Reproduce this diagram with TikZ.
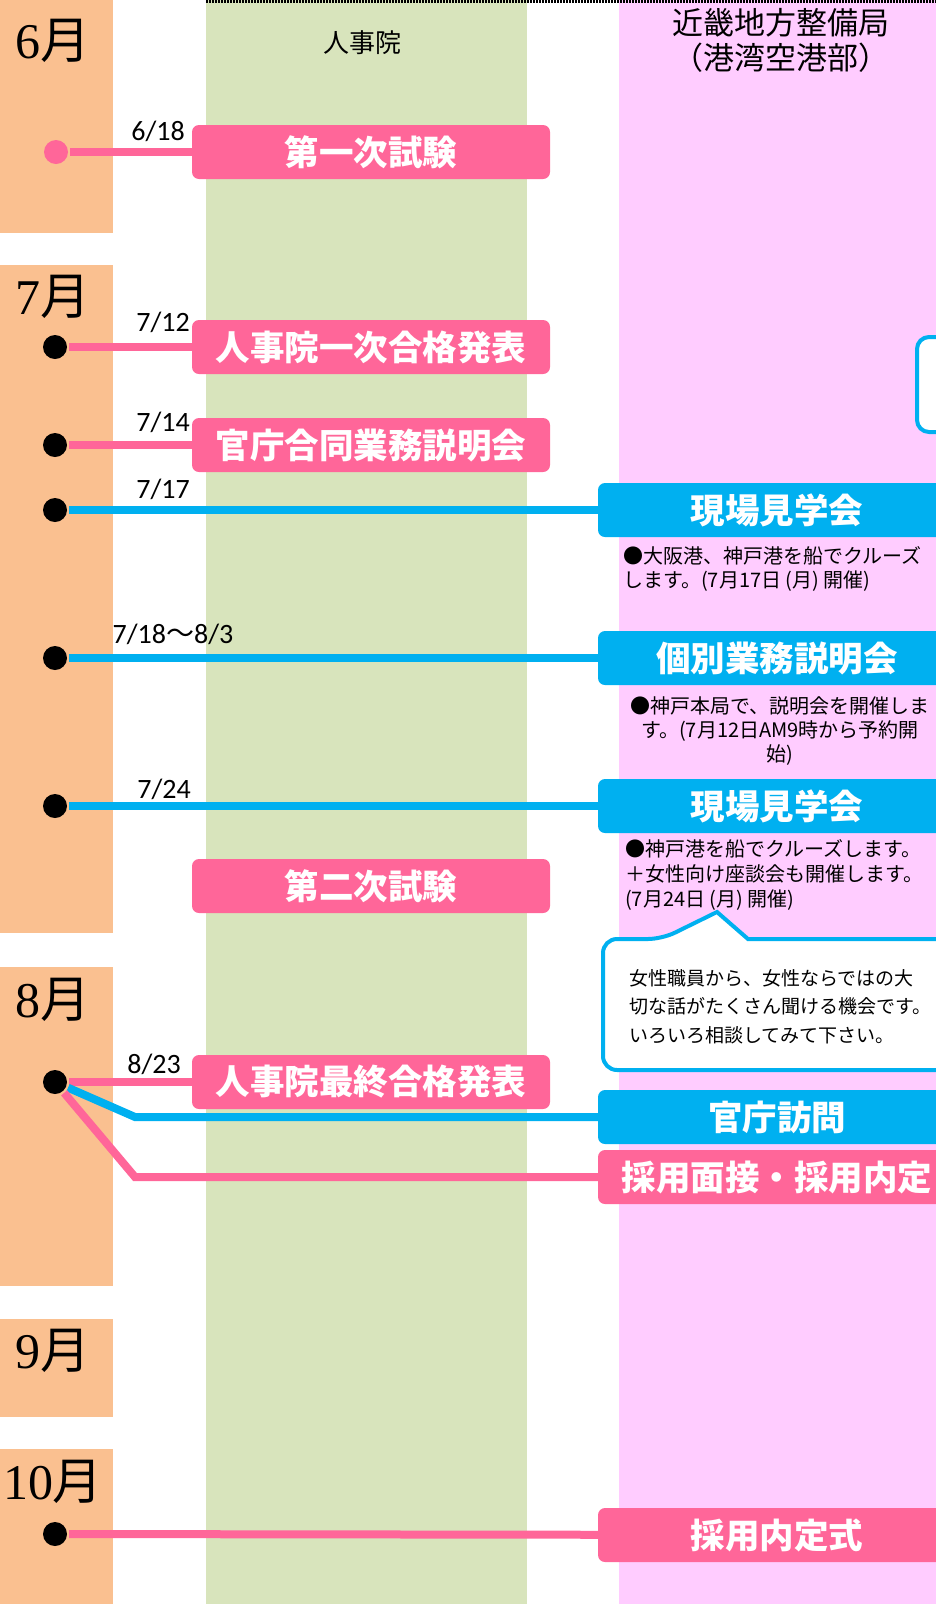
\documentclass[tikz,border=0pt]{standalone}
\usepackage{fontspec}
\setmainfont{Noto Sans CJK JP}
\newfontfamily\datefont{Carlito}
\newfontfamily\monthfont{Liberation Serif}
\usetikzlibrary{positioning}

\definecolor{monthbg}{HTML}{FAC090}
\definecolor{jinjibg}{HTML}{D8E4BC}
\definecolor{kinkibg}{HTML}{FFCCFF}
\definecolor{evpink}{HTML}{FF6699}
\definecolor{evblue}{HTML}{00B0F0}

\begin{document}
\begin{tikzpicture}[x=1pt, y=-1pt,
  dot/.style={circle, fill=black, minimum size=24pt, inner sep=0pt},
  evbox/.style={rectangle, rounded corners=7pt, minimum width=358pt, minimum height=54pt,
    inner sep=0pt, text=white, font=\fontsize{34.5}{36}\selectfont\bfseries},
  pinkbox/.style={evbox, fill=evpink},
  bluebox/.style={evbox, fill=evblue},
  pinkline/.style={evpink, line width=8pt, shorten <=2pt},
  blueline/.style={evblue, line width=8pt, shorten <=2pt},
  datelbl/.style={anchor=base, inner sep=0pt, font=\datefont\fontsize{28}{30}\selectfont},
  note/.style={inner sep=0pt, font=\fontsize{20}{24}\selectfont},
  monthlbl/.style={inner sep=0pt, font=\fontsize{50}{52}\selectfont},
  callout/.style={evblue, line width=4pt, fill=white}]
\clip (0,0) rectangle (936,1604);

% columns and month bars
\fill[jinjibg] (206,0) rectangle (527,1604);
\fill[kinkibg] (619,0) rectangle (936,1604);
\draw[line width=3pt, dash pattern=on 1.5pt off 1.5pt] (206,1.5) -- (936,1.5);

\foreach \ya/\yb/\lab/\ly in {0/233/6/41, 265/933/7/297, 967/1286/8/1000,
    1319/1417/9/1351, 1449/1604/10/1482} {
    \fill[monthbg] (0,\ya) rectangle (113,\yb);
    \node[monthlbl] (m\lab) at (53,\ly) {{\monthfont\lab}月};
};

\node[font=\fontsize{26}{28}\selectfont] (hjinji) at (362,43) {人事院};
\node[font=\fontsize{31}{35}\selectfont, align=center] (hkinki) at (781,40)
    {近畿地方整備局\\（港湾空港部）};

% 6/18
\node[dot, fill=evpink] (d0618) at (56,152) {};
\node[pinkbox] (b0618) at (371,152) {第一次試験};
\node[datelbl] (t0618) at (158,140) {6/18};
\draw[pinkline] (d0618) -- (b0618);

% 7/12 and 7/14
\node[dot] (d0712) at (55,347) {};
\node[pinkbox] (b0712) at (371,347) {人事院一次合格発表};
\node[datelbl] (t0712) at (163,331) {7/12};
\draw[pinkline] (d0712) -- (b0712);

\node[dot] (d0714) at (55,445) {};
\node[pinkbox] (b0714) at (371,445) {官庁合同業務説明会};
\node[datelbl] (t0714) at (163,431) {7/14};
\draw[pinkline] (d0714) -- (b0714);

% 7/17
\node[dot] (d0717) at (55,510) {};
\node[bluebox] (b0717) at (777,510) {現場見学会};
\node[datelbl] (t0717) at (163,498) {7/17};
\draw[blueline] (d0717) -- (b0717);
\node[note, anchor=north west, align=left] (n0717) at (623,546)
    {●大阪港、神戸港を船でクルーズ\\します。(7月17日 (月) 開催)};

% 7/18 - 8/3
\node[dot] (d0718) at (55,658) {};
\node[bluebox] (b0718) at (777,658) {個別業務説明会};
\node[datelbl] (t0718) at (173,643) {7/18{\rmfamily 〜}8/3};
\draw[blueline] (d0718) -- (b0718);
\node[note, anchor=north, align=center] (n0718) at (780,696)
    {●神戸本局で、説明会を開催しま\\す。(7月12日AM9時から予約開\\始)};

% 7/24
\node[dot] (d0724) at (55,806) {};
\node[bluebox] (b0724) at (777,806) {現場見学会};
\node[datelbl] (t0724) at (164,798) {7/24};
\draw[blueline] (d0724) -- (b0724);
\node[note, anchor=north west, align=left, font=\fontsize{20}{25}\selectfont] (n0724) at (625,839)
    {●神戸港を船でクルーズします。\\＋女性向け座談会も開催します。\\(7月24日 (月) 開催)};

\node[pinkbox] (b2nd) at (371,886) {第二次試験};

% speech bubbles
\draw[callout] (917,337) [rounded corners=12pt] -- (980,337) -- (980,432) -- (917,432) -- cycle;
\draw[callout] (603,1004) [rounded corners=14pt] -- (603,939) -- (662,939) [sharp corners]
    -- (717,912) -- (748,939) [rounded corners=14pt] -- (980,939) -- (980,1070) -- (603,1070) -- cycle;
\node[note, anchor=north west, align=left, font=\fontsize{19}{28.5}\selectfont] (ntalk) at (629,969)
    {女性職員から、女性ならではの大\\切な話がたくさん聞ける機会です。\\いろいろ相談してみて下さい。};

% 8/23
\node[dot] (d0823) at (55,1082) {};
\node[pinkbox] (b0823) at (371,1082) {人事院最終合格発表};
\node[datelbl] (t0823) at (154,1073) {8/23};
\draw[pinkline] (d0823) -- (b0823);

\node[bluebox] (bvisit) at (777,1117) {官庁訪問};
\node[pinkbox] (boffer) at (777,1177) {採用面接・採用内定};
\coordinate (kvisit) at (135,1117);
\coordinate (koffer) at (135,1177);
\draw[blueline] (d0823) -- (kvisit) -- (bvisit);
\draw[pinkline] (d0823) -- (koffer) -- (boffer);

% October
\node[dot] (d1000) at (55,1534) {};
\node[pinkbox] (bceremony) at (777,1535) {採用内定式};
\draw[pinkline] (d1000) -- (bceremony);

\end{tikzpicture}
\end{document}
